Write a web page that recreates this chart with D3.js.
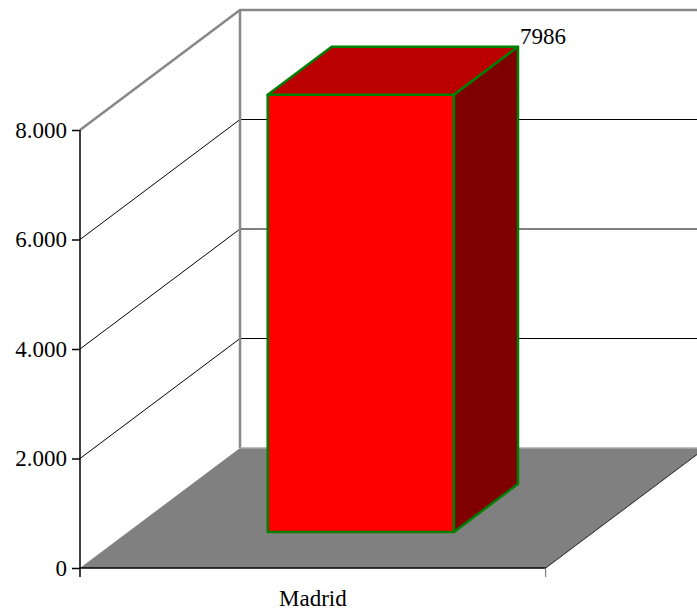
<!DOCTYPE html>
<html>
<head>
<meta charset="utf-8">
<script src="https://cdn.jsdelivr.net/npm/d3@7"></script>
<style>
html,body{margin:0;padding:0;background:#fff;}
svg{display:block;}
text{font-family:"Liberation Serif","Times New Roman",serif;font-size:23px;fill:#000;}
</style>
</head>
<body>
<script>
const categories = ["Madrid"];
const values = [7986];
const tickValues = [0, 2000, 4000, 6000, 8000];
const tickLabels = ["0", "2.000", "4.000", "6.000", "8.000"];

(function () {
const W = 697, H = 615;
const pLeft = 80, pRight = 545.7, pBottom = 568, pTop = 130;
const DX = 160, DY = -120;       // full depth offset
const z0 = 0.3, z1 = 0.7;        // bar depth range

const svg = d3.select("body").append("svg").attr("width", W).attr("height", H);

const y = d3.scaleLinear().domain([0, 8000]).range([pBottom, pTop]);
const x = d3.scaleBand().domain(categories).range([pLeft, pRight]);

// floor
const floorPts = [[pLeft, pBottom], [pLeft + DX, pBottom + DY], [pRight + DX, pBottom + DY], [pRight, pBottom]];
svg.append("polygon").attr("points", floorPts.map(p => p.join(",")).join(" ")).attr("fill", "#808080");

// gridlines
tickValues.filter(v => v > 0 && v < 8000).forEach(v => {
  const yy = y(v);
  svg.append("polyline")
    .attr("points", `${pLeft},${yy} ${pLeft + DX},${yy + DY} ${pRight + DX},${yy + DY}`)
    .attr("fill", "none").attr("stroke", "#000").attr("stroke-width", 1);
});

// walls frame (gray)
const yTop = y(8000);
svg.append("polyline")
  .attr("points", `${pLeft},${yTop} ${pLeft + DX},${yTop + DY} ${pRight + DX},${yTop + DY}`)
  .attr("fill", "none").attr("stroke", "#888").attr("stroke-width", 2.5);
svg.append("line")
  .attr("x1", pLeft + DX).attr("y1", yTop + DY).attr("x2", pLeft + DX).attr("y2", pBottom + DY)
  .attr("stroke", "#888").attr("stroke-width", 2.5);
svg.append("line")
  .attr("x1", pLeft + DX).attr("y1", pBottom + DY).attr("x2", pRight + DX).attr("y2", pBottom + DY)
  .attr("stroke", "#aaa").attr("stroke-width", 1.5);

// floor right edge
svg.append("line")
  .attr("x1", pRight).attr("y1", pBottom).attr("x2", pRight + DX).attr("y2", pBottom + DY)
  .attr("stroke", "#222").attr("stroke-width", 1);

// y axis
const yAxis = d3.axisLeft(y).tickValues(tickValues).tickSize(8).tickPadding(5)
  .tickFormat((d, i) => tickLabels[i]);
const gy = svg.append("g").attr("transform", `translate(${pLeft},0)`).call(yAxis);
gy.select(".domain").remove();
gy.selectAll(".tick line").attr("stroke", "#000").attr("stroke-width", 1.5);
gy.selectAll(".tick text").style("font-size", "23px").style("font-family", "Liberation Serif, serif").attr("fill", "#000");
svg.append("line").attr("x1", pLeft).attr("y1", pTop).attr("x2", pLeft).attr("y2", pBottom + 9)
  .attr("stroke", "#000").attr("stroke-width", 1.5);

// x axis
svg.append("line").attr("x1", pLeft).attr("y1", pBottom).attr("x2", pRight).attr("y2", pBottom)
  .attr("stroke", "#000").attr("stroke-width", 1.5);
svg.append("line").attr("x1", pRight).attr("y1", pBottom).attr("x2", pRight).attr("y2", pBottom + 9)
  .attr("stroke", "#666").attr("stroke-width", 1);
svg.selectAll(".xlab").data(categories).enter().append("text")
  .attr("class", "xlab")
  .attr("x", d => x(d) + x.bandwidth() / 2)
  .attr("y", 605.5)
  .attr("text-anchor", "middle")
  .text(d => d);

// bars
const barFrac = 0.4;
categories.forEach((c, i) => {
  const cx = x(c) + x.bandwidth() / 2;
  const bw = x.bandwidth() * barFrac;
  const ox = DX * z0, oy = DY * z0;
  const ddx = DX * (z1 - z0), ddy = DY * (z1 - z0);
  const x0 = cx - bw / 2 + ox, x1 = cx + bw / 2 + ox;
  const yb = y(0) + oy, yt = y(values[i]) + oy;
  const g = svg.append("g").attr("stroke", "#008000").attr("stroke-width", 2.5).attr("stroke-linejoin", "round");
  g.append("polygon").attr("fill", "#FF0000")
    .attr("points", `${x0},${yt} ${x1},${yt} ${x1},${yb} ${x0},${yb}`);
  g.append("polygon").attr("fill", "#BB0000")
    .attr("points", `${x0},${yt} ${x0 + ddx},${yt + ddy} ${x1 + ddx},${yt + ddy} ${x1},${yt}`);
  g.append("polygon").attr("fill", "#7F0000")
    .attr("points", `${x1},${yt} ${x1 + ddx},${yt + ddy} ${x1 + ddx},${yb + ddy} ${x1},${yb}`);
  svg.append("text")
    .attr("x", x1 + ddx + 2)
    .attr("y", yt + ddy - 3)
    .text(values[i]);
});
})();
</script>
</body>
</html>
